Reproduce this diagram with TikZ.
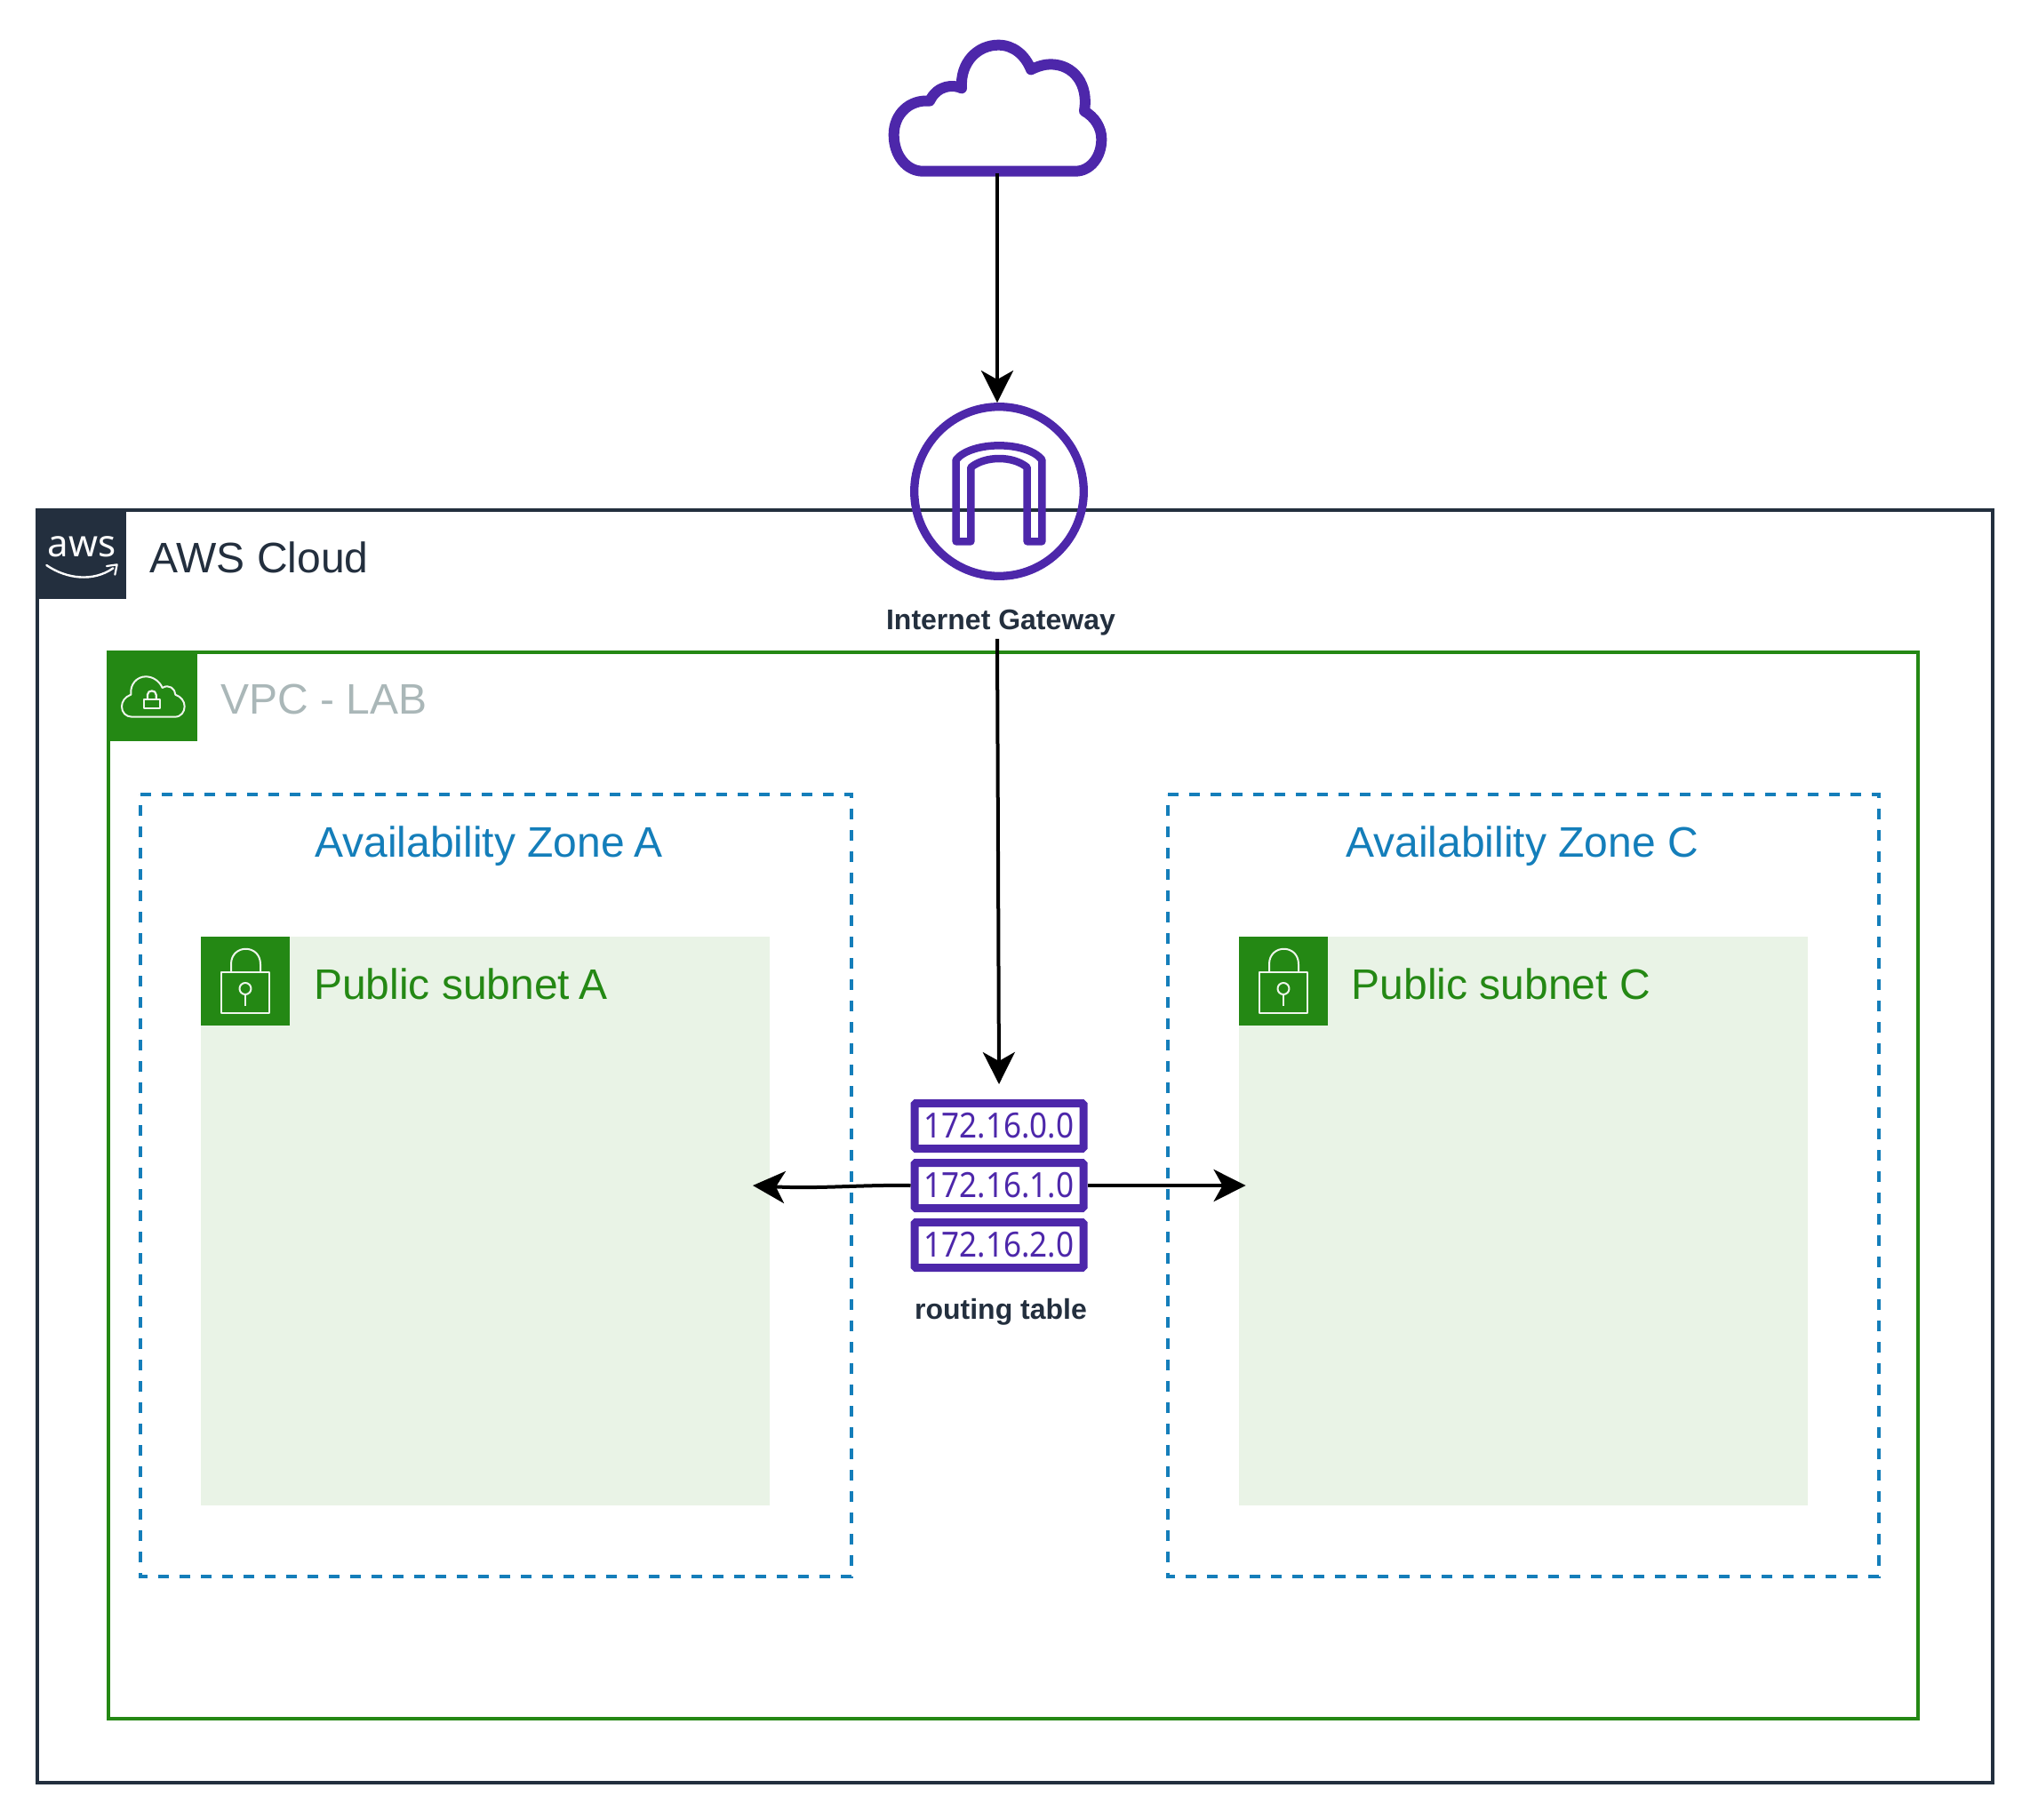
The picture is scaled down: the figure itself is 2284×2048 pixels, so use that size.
\documentclass[tikz,border=0pt]{standalone}
\usepackage{fontspec}
\usepackage{graphicx}
\setmainfont{Liberation Sans}
\newfontfamily\rtfont{Noto Sans}
\usetikzlibrary{arrows.meta}
\definecolor{awsdark}{HTML}{232F3E}
\definecolor{awsgreen}{HTML}{248814}
\definecolor{awsblue}{HTML}{147EBA}
\definecolor{awspurple}{HTML}{4D27AA}
\definecolor{subnetfill}{HTML}{E9F3E6}
\definecolor{vpcgrey}{HTML}{AAB7B8}
\definecolor{iconlight}{HTML}{EEF5EC}
\tikzset{
  x=1pt,y=-1pt,
  big/.style={font=\fontsize{48}{58}\selectfont,inner sep=0pt,anchor=base west},
  small/.style={font=\fontsize{32}{38}\selectfont\bfseries,text=awsdark,inner sep=4pt,anchor=base},
  container/.style={draw,line width=4pt,fill=none,inner sep=0pt,outer sep=0pt,anchor=north west},
  zonebox/.style={draw=awsblue,line width=4pt,dash pattern=on 12pt off 12pt},
  subnetbox/.style={fill=subnetfill,draw=none,minimum width=640pt,minimum height=640pt,inner sep=0pt,outer sep=0pt,anchor=north west},
  badge/.style={minimum width=100pt,minimum height=100pt,inner sep=0pt,outer sep=0pt,anchor=north west},
  routerow/.style={draw=awspurple,line width=9pt,rounded corners=1.5pt,fill=white,minimum width=190pt,minimum height=51pt,inner sep=0pt,text=awspurple,font=\rtfont\fontsize{39}{44}\selectfont},
  conn/.style={draw=black,line width=4pt,-{Stealth[length=36pt,width=36pt,inset=10pt]}},
  iconline/.style={draw=awspurple,line join=round},
  thinicon/.style={draw=iconlight,line width=2pt,line join=round}
}
\begin{document}
\begin{tikzpicture}
\useasboundingbox[fill=white] (0,0) rectangle (2284,2048);

% containers
\node[container,draw=awsdark,minimum width=2200pt,minimum height=1432pt] (cloudbox) at (42,574) {};
\node[container,draw=awsgreen,minimum width=2036pt,minimum height=1200pt] (vpcbox) at (122,734) {};
\draw[zonebox] (158,894) -- (958,894) -- (958,1774) -- (158,1774) -- cycle;
\draw[zonebox] (1314,894) -- (2114,894) -- (2114,1774) -- (1314,1774) -- cycle;
\node[subnetbox] (subnetA) at (226,1054) {};
\node[subnetbox] (subnetC) at (1394,1054) {};

% badges
\node[badge,fill=awsdark,minimum width=102pt,minimum height=102pt] (awsbadge) at (40,572) {};
\node[badge,fill=awsgreen,minimum width=102pt,minimum height=102pt] (vpcbadge) at (120,732) {};
\node[badge,fill=awsgreen] (lockA) at (226,1054) {};
\node[badge,fill=awsgreen] (lockC) at (1394,1054) {};

% aws logo
\node[inner sep=0pt,anchor=base,text=white,font=\rtfont\fontsize{42}{50}\selectfont] (awslogo) at (92,626) {aws};
\begin{scope}[shift={(20,560)},scale=1/3]
  \draw[white,line width=2.4pt,line cap=round] (97,228) .. controls (165,275) and (255,285) .. (322,238);
  \draw[white,line width=2.2pt,line cap=round,line join=round] (300,231) -- (335,226) -- (328,260);
\end{scope}

% vpc icon
\begin{scope}[shift={(20,560)},scale=1/3]
  \draw[thinicon] (385,740) -- (530,740) .. controls (552,740) and (563,722) .. (563,705)
    .. controls (563,688) and (552,672) .. (532,665) .. controls (532,645) and (510,628) .. (488,642)
    .. controls (478,618) and (455,604) .. (432,604) .. controls (402,604) and (378,630) .. (382,665)
    .. controls (362,672) and (351,688) .. (351,705) .. controls (351,725) and (365,740) .. (385,740) -- cycle;
  \draw[thinicon,line width=2.2pt] (425,680) rectangle (480,711);
  \draw[thinicon,line width=2.2pt] (438,680) -- (438,665) .. controls (438,648) and (467,648) .. (467,665) -- (467,680);
\end{scope}

% lock icons
\foreach \dx/\nm in {0/A,1168/C}{
\begin{scope}[xshift=\dx pt]
  \draw[thinicon] (249,1094) rectangle (303,1140);
  \draw[thinicon] (260,1094) -- (260,1085) .. controls (260,1062) and (293,1062) .. (293,1085) -- (293,1094);
  \draw[thinicon] (276,1112.5) circle (6.5);
  \draw[thinicon] (276,1119) -- (276,1132);
\end{scope}}

% labels of containers
\node[big,text=awsdark] (awslabel) at (168,644) {AWS Cloud};
\node[big,text=vpcgrey] (vpclabel) at (248,803) {VPC - LAB};
\node[big,text=awsblue] (azA) at (354,964) {Availability Zone\kern-3pt{} A};
\node[big,text=awsblue] (azC) at (1514,964) {Availability Zone C};
\node[big,text=awsgreen] (subA) at (353,1124) {Public subnet\kern-3pt{} A};
\node[big,text=awsgreen] (subC) at (1520.5,1124) {Public subnet C};

% internet cloud
\node[minimum width=244pt,minimum height=150pt,inner sep=0pt] (internet) at (1122,120) {};
\begin{scope}[shift={(960,20)},scale=1/3]
  \draw[iconline,line width=12pt] (235,518) -- (750,518) .. controls (800,518) and (838,470) .. (838,410)
    .. controls (838,370) and (815,335) .. (780,315)
    .. controls (795,225) and (745,157) .. (665,157) .. controls (645,157) and (620,165) .. (600,175)
    .. controls (580,125) and (540,92) .. (490,92) .. controls (420,92) and (360,150) .. (366,238)
    .. controls (340,225) and (285,225) .. (258,281)
    .. controls (190,275) and (137,325) .. (137,395) .. controls (137,465) and (180,518) .. (235,518) -- cycle;
\end{scope}

% internet gateway
\node[circle,draw=awspurple,line width=9.3pt,minimum size=190.6pt,inner sep=0pt] (igw) at (1124,553) {};
\begin{scope}[shift={(960,420)},scale=1/3]
  \draw[iconline,line width=8.5pt] (347,568) -- (347,292) .. controls (400,228) and (585,228) .. (637,292)
    -- (637,568) -- (587,568) -- (587,318) .. controls (540,278) and (445,278) .. (397,318) -- (397,568) -- cycle;
\end{scope}
\node[small] (igwlabel) at (1126,708) {Internet Gateway};

% routing table
\node[routerow] (rt0) at (1124,1267) {\scalebox{0.9}[1]{172.16.0.0}};
\node[routerow] (rt1) at (1124,1334) {\scalebox{0.9}[1]{172.16.1.0}};
\node[routerow] (rt2) at (1124,1401) {\scalebox{0.9}[1]{172.16.2.0}};
\node[small,inner sep=0pt] (rtlabel) at (1126,1484) {routing table};

% connectors
\coordinate (gwout) at (igwlabel.south -| internet.south);
\coordinate (gwmid) at (1123,961);
\coordinate (rttip) at (1124,1220);
\coordinate (leftA) at (847,1334);
\coordinate (rightC) at (1401.6,1334);
\draw[conn] (internet.south) -- (internet.south |- igw.north);
\draw[conn] (gwout) -- (gwmid) -- (rttip);
\draw[conn] (rt1.west) .. controls (970,1333) and (920,1338) .. (leftA);
\draw[conn] (rt1.east) -- (rightC);
\end{tikzpicture}
\end{document}
